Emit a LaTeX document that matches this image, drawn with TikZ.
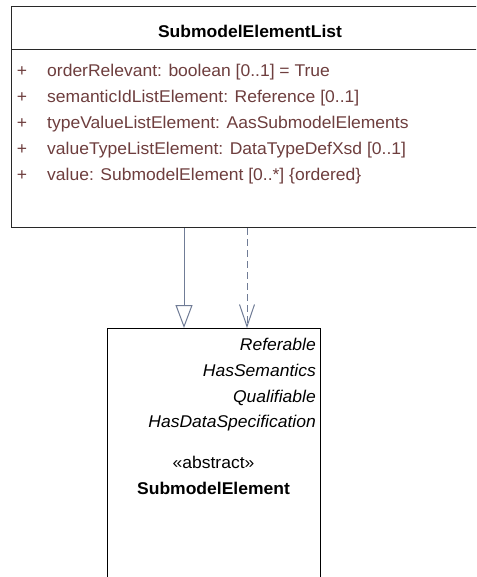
\documentclass[tikz,border=0pt]{standalone}
\usepackage{fontspec}
\setmainfont{Liberation Sans}[FakeStretch=1.03]
\usetikzlibrary{arrows.meta}
\definecolor{attrcol}{RGB}{110,62,62}
\definecolor{linkcol}{RGB}{112,124,150}
\definecolor{boxcol}{RGB}{40,40,40}
\begin{document}
\begin{tikzpicture}[x=1pt,y=-1pt,
  txt/.style={inner sep=0pt,font=\fontsize{17}{20}\selectfont},
  attr/.style={txt,text=attrcol,anchor=base west},
  plus/.style={txt,text=attrcol,anchor=base},
  iface/.style={txt,font=\fontsize{17}{20}\selectfont\itshape,anchor=base east},
  classbox/.style={draw=boxcol,line width=1pt,fill=white,inner sep=0pt,anchor=north west},
  gen/.style={draw=linkcol,line width=1pt,-{Triangle[open,length=23pt,width=17pt]}},
  real/.style={draw=linkcol,line width=1pt,dash pattern=on 7pt off 4pt,-{Straight Barb[length=22pt,width=15pt]}}]
\useasboundingbox (0,0) rectangle (476,577);
\clip (0,0) rectangle (476,577);
\fill[white] (0,0) rectangle (476,577);
% top class
\node[classbox,minimum width=478pt,minimum height=221pt] (list) at (11,6) {};
\draw[draw=boxcol,line width=1pt] (11,50) coordinate (d1) -- (489,50) coordinate (d2);
\node[txt,anchor=base,font=\fontsize{17}{20}\selectfont\bfseries] (title) at (250,37.5) {SubmodelElementList};
\node[plus] (p1) at (22,77) {+};
\node[plus] (p2) at (22,103) {+};
\node[plus] (p3) at (22,129) {+};
\node[plus] (p4) at (22,155) {+};
\node[plus] (p5) at (22,181) {+};
\node[attr] (a1) at (47,77) {orderRelevant: boolean [0..1] = True};
\node[attr] (a2) at (47,103) {semanticIdListElement: Reference [0..1]};
\node[attr] (a3) at (47,129) {typeValueListElement: AasSubmodelElements};
\node[attr] (a4) at (47,155) {valueTypeListElement: DataTypeDefXsd [0..1]};
\node[attr] (a5) at (47,181) {value: SubmodelElement [0..*] \{ordered\}};
% bottom class
\node[classbox,draw=black,minimum width=213pt,minimum height=280pt] (elem) at (107,328) {};
\node[iface] (i1) at (316,350.5) {Referable};
\node[iface] (i2) at (316,376) {HasSemantics};
\node[iface] (i3) at (316,402) {Qualifiable};
\node[iface] (i4) at (316,427.5) {HasDataSpecification};
\node[txt,anchor=base] (st) at (213.5,468) {«abstract»};
\node[txt,anchor=base,font=\fontsize{17}{20}\selectfont\bfseries] (name) at (213.5,494) {SubmodelElement};
% connectors
\coordinate (xg) at (184,0);
\coordinate (xr) at (247,0);
\draw[gen] (list.south -| xg) -- (elem.north -| xg);
\draw[real] (list.south -| xr) -- (elem.north -| xr);
\end{tikzpicture}
\end{document}
